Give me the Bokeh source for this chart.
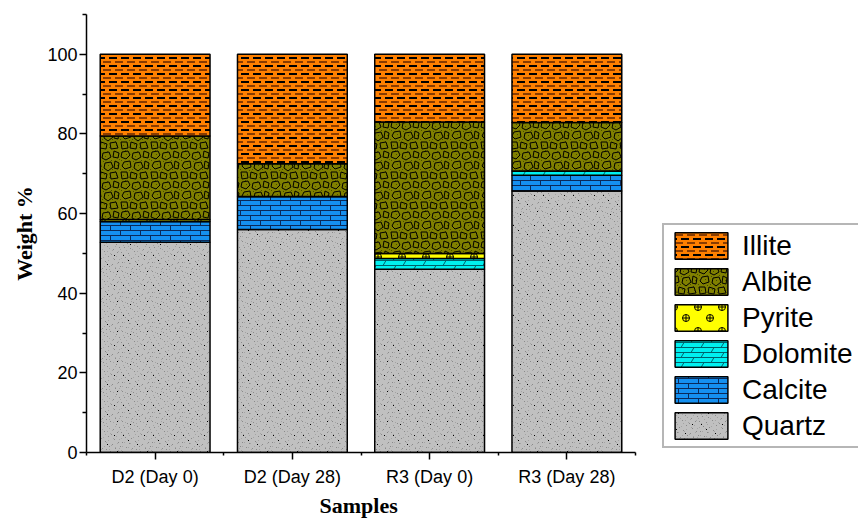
import base64
from bokeh.plotting import figure
from bokeh.models import (ColumnDataSource, Range1d, FixedTicker, Legend, LegendItem,
                          ImageURLTexture, Title)
from bokeh.core.properties import value
from bokeh.embed import file_html
from bokeh.resources import INLINE

# ---------------- data ----------------
samples = ["D2 (Day 0)", "D2 (Day 28)", "R3 (Day 0)", "R3 (Day 28)"]
minerals = ["Quartz", "Calcite", "Dolomite", "Pyrite", "Albite", "Illite"]
quartz = [52.8, 56.0, 46.0, 65.7]
calcite = [5.2, 8.3, 0.0, 3.9]
dolomite = [0.0, 0.0, 2.7, 1.1]
pyrite = [0.5, 0.0, 1.3, 0.0]
albite = [21.0, 8.2, 33.0, 12.2]
illite = [20.5, 27.5, 17.0, 17.1]
y_ticks = [0, 20, 40, 60, 80, 100]
y_minor = [10, 30, 50, 70, 90, 110]

# ---------------- texture tiles (styling only) ----------------
def tile_url(size, body):
    svg = (f'<svg xmlns="http://www.w3.org/2000/svg" width="{size}" height="{size}" '
           f'shape-rendering="crispEdges">{body}</svg>')
    return "data:image/svg+xml;base64," + base64.b64encode(svg.encode()).decode()

def specks(pts, color):
    return "".join(f'<rect x="{a}" y="{b}" width="1" height="1" fill="{color}"/>' for a, b in pts)

illite_svg = tile_url(24,
    '<path d="M1 2H9M13 2H21M1 10H9M13 10H21M1 18H9M13 18H21" stroke="#000" stroke-width="1.3"/>'
    '<path d="M0 6H3M7 6H15M19 6H24M0 14H3M7 14H15M19 14H24M0 22H3M7 22H15M19 22H24" '
    'stroke="#8a3c00" stroke-width="1.3"/>')
albite_svg = tile_url(30,
    specks([(1, 10), (5, 0), (9, 20), (13, 11), (17, 1), (21, 10), (25, 21), (29, 9),
            (3, 25), (12, 19), (19, 27), (27, 15), (7, 14), (23, 4), (15, 6), (0, 19),
            (6, 4), (18, 15), (26, 25), (10, 26), (22, 19), (14, 24)], "#4a4a00") +
    '<g fill="none" stroke="#000" stroke-width="1" shape-rendering="auto">'
    '<path d="M2 2L8 1L10 5L6 9L1 7Z"/><path d="M13 3L19 2L21 7L16 10L12 8Z"/>'
    '<path d="M24 1L29 3L28 8L23 7Z"/><path d="M4 12L10 11L11 17L5 19L2 16Z"/>'
    '<path d="M15 13L21 12L23 17L18 21L14 18Z"/><path d="M25 11L29 13L28 19L24 18Z"/>'
    '<path d="M1 22L7 22L8 28L2 29Z"/><path d="M11 22L17 24L16 29L10 28Z"/>'
    '<path d="M20 23L26 22L28 28L21 29Z"/></g>')
pyrite_svg = tile_url(24,
    '<g fill="none" stroke="#000" stroke-width="1" shape-rendering="auto">'
    '<circle cx="6" cy="6" r="3.5"/><path d="M2.5 6H9.5M6 2.5V9.5"/>'
    '<circle cx="18" cy="17" r="3.5"/><path d="M14.5 17H21.5M18 13.5V20.5"/></g>')
dolomite_svg = tile_url(20,
    '<path d="M0 0.5H20M0 5.5H20M0 10.5H20M0 15.5H20" stroke="#00606a" stroke-width="1"/>'
    '<path d="M3 5.5L6 0.5M13 10.5L16 5.5M3 15.5L6 10.5M13 20.5L16 15.5" '
    'stroke="#00606a" stroke-width="1" fill="none" shape-rendering="auto"/>')
calcite_svg = tile_url(20,
    '<path d="M0 0.5H20M0 5.5H20M0 10.5H20M0 15.5H20M0.5 0V5M10.5 5V10M0.5 10V15M10.5 15V20" '
    'stroke="#0a2a5a" stroke-width="1.2" fill="none"/>')
quartz_svg = tile_url(30,
    specks([(1, 0), (5, 2), (11, 1), (16, 3), (23, 2), (28, 0), (3, 5), (8, 6), (14, 5), (19, 8),
            (25, 6), (0, 9), (6, 10), (12, 9), (17, 11), (22, 10), (28, 11), (3, 14), (9, 15),
            (15, 14), (20, 13), (26, 16), (1, 18), (7, 19), (13, 17), (18, 20), (23, 18), (29, 19),
            (4, 22), (10, 23), (16, 22), (21, 25), (27, 23), (2, 26), (8, 27), (14, 26), (19, 29),
            (25, 27), (29, 28), (11, 29)], "#a4a4a4") +
    specks([(2, 1), (7, 3), (13, 2), (20, 1), (26, 4), (4, 7), (10, 8), (17, 6), (23, 9), (29, 7),
            (1, 12), (8, 13), (14, 11), (21, 14), (27, 12), (5, 17), (11, 18), (18, 16), (24, 19),
            (2, 22), (9, 23), (15, 21), (22, 24), (28, 22), (6, 27), (12, 28), (19, 26), (25, 28),
            (0, 26), (16, 29)], "#8a8a8a") +
    specks([(10, 4), (24, 15), (3, 15), (17, 24), (27, 1), (8, 20)], "#000000"))

textures = {
    "illite": ImageURLTexture(url=illite_svg),
    "albite": ImageURLTexture(url=albite_svg),
    "pyrite": ImageURLTexture(url=pyrite_svg),
    "dolomite": ImageURLTexture(url=dolomite_svg),
    "calcite": ImageURLTexture(url=calcite_svg),
    "quartz": ImageURLTexture(url=quartz_svg),
}
fill_colors = {"Quartz": "#c0c0c0", "Calcite": "#1590f0", "Dolomite": "#00f0f0",
               "Pyrite": "#ffff00", "Albite": "#808000", "Illite": "#ff8000"}

x_pos = [i + 0.5 for i in range(len(samples))]
source = ColumnDataSource(dict(x=x_pos, Quartz=quartz, Calcite=calcite, Dolomite=dolomite,
                               Pyrite=pyrite, Albite=albite, Illite=illite))

# frame spans to the right edge (room for the legend); the axis itself is bounded
AXIS_PX, FRAME_PX = 549, 772
p = figure(width=858, height=518, output_backend="svg", toolbar_location=None,
           x_range=Range1d(0, len(samples) * FRAME_PX / AXIS_PX), y_range=Range1d(0, 110),
           min_border_left=86, min_border_right=0, min_border_top=14, min_border_bottom=66)
p.outline_line_color = None
p.grid.visible = False

renderers = p.vbar_stack(
    minerals, x="x", width=0.8, source=source,
    fill_color=[fill_colors[m] for m in minerals],
    line_color="black", line_width=1.5,
    hatch_pattern=[value(m.lower()) for m in minerals],
    hatch_color="black", hatch_extra=textures,
)

# axes
for ax in (p.xaxis[0], p.yaxis[0]):
    ax.axis_line_width = 1.5
    ax.major_tick_line_width = 1.5
    ax.minor_tick_line_width = 1.5
    ax.major_tick_in = 0
    ax.minor_tick_in = 0
    ax.major_label_text_font = "Liberation Sans"
    ax.major_label_text_font_size = "18px"
    ax.major_label_text_color = "black"
    ax.axis_label_text_font = "Liberation Serif"
    ax.axis_label_text_font_style = "bold"
    ax.axis_label_text_font_size = "22px"
    ax.axis_label_text_color = "black"

p.yaxis.ticker = FixedTicker(ticks=y_ticks, minor_ticks=y_minor)
p.yaxis.major_tick_out = 7
p.yaxis.minor_tick_out = 4
p.yaxis.major_label_standoff = 2
p.yaxis.axis_label = "Weight %"
p.yaxis.axis_label_standoff = 7

p.xaxis.bounds = (0, len(samples))
p.xaxis.ticker = FixedTicker(ticks=x_pos, minor_ticks=list(range(len(samples) + 1)))
p.xaxis.major_label_overrides = {xv: s for xv, s in zip(x_pos, samples)}
p.xaxis.major_tick_out = 7
p.xaxis.minor_tick_out = 3
p.xaxis.major_label_standoff = 7

p.add_layout(Title(text="Samples", align="left", offset=233, standoff=2,
                   text_line_height=1.0,
                   text_font="Liberation Serif", text_font_style="bold",
                   text_font_size="22px", text_color="black"), "below")

items = [LegendItem(label=m, renderers=[r]) for m, r in zip(minerals, renderers)][::-1]
legend = Legend(items=items, location=(576, 4), orientation="vertical",
                glyph_width=66, glyph_height=33, spacing=3, padding=4, margin=0,
                label_text_font="Liberation Sans", label_text_font_size="28px",
                label_text_color="black", label_width=125, label_height=33,
                label_standoff=8, border_line_color="#6e6e6e", border_line_width=2,
                background_fill_color="white", background_fill_alpha=1.0)
p.add_layout(legend, "center")

open("out.html", "w").write(file_html(p, INLINE))
